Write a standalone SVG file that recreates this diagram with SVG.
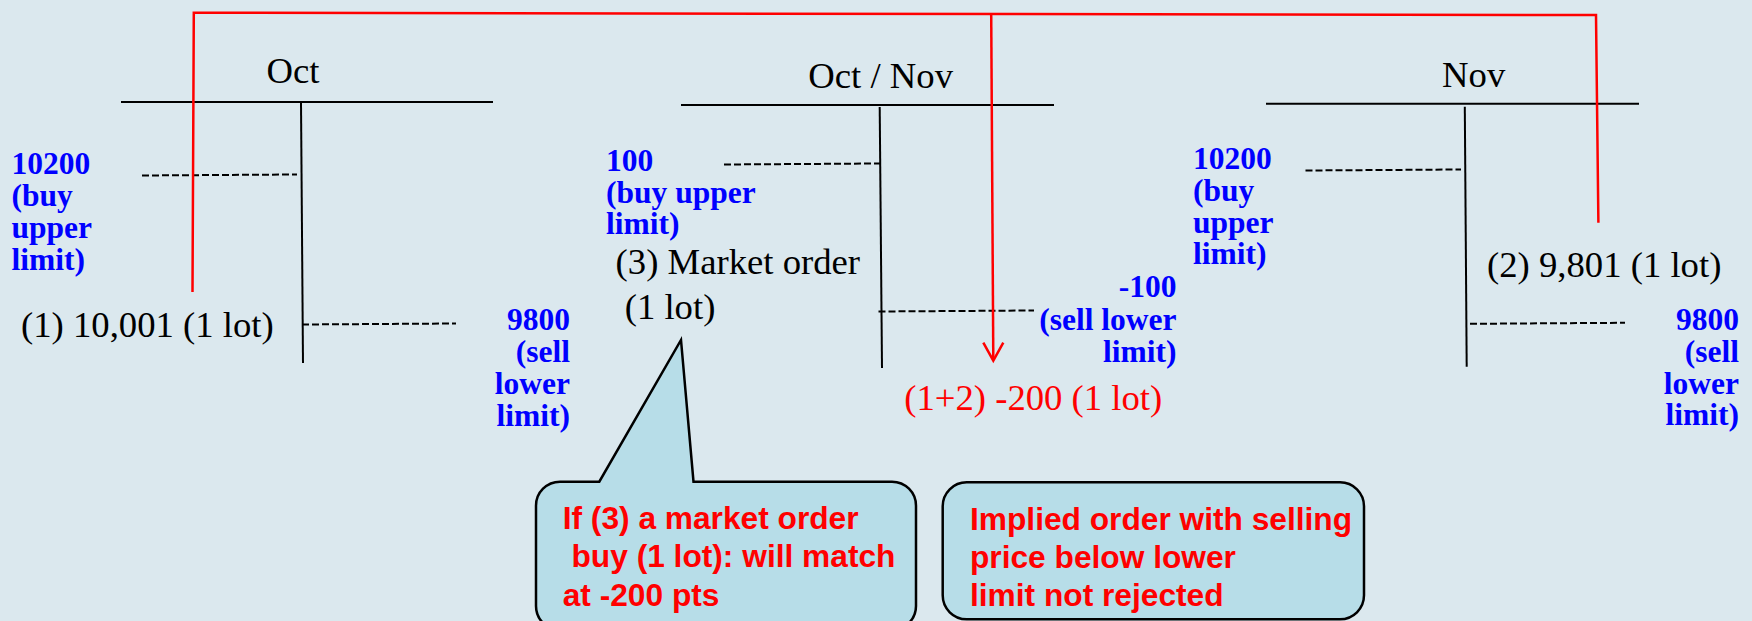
<svg xmlns="http://www.w3.org/2000/svg" width="1752" height="621" viewBox="0 0 1752 621">
<defs>
<style>
.axis{stroke:#000;stroke-width:2;fill:none}
.dash{stroke:#000;stroke-width:2;stroke-dasharray:7 3;fill:none}
.red{stroke:#ff0000;stroke-width:2.5;fill:none}
.hdr{font-family:"Liberation Serif","Times New Roman",serif;font-size:36.7px;fill:#000}
.lbl{font-family:"Liberation Serif","Times New Roman",serif;font-size:36.7px;fill:#000}
.lim{font-family:"Liberation Serif","Times New Roman",serif;font-size:31.5px;font-weight:bold;fill:#0000ff}
.res{font-family:"Liberation Serif","Times New Roman",serif;font-size:36.7px;fill:#ff0000}
.call{fill:#b7dde8;stroke:#000;stroke-width:2.5}
.ctext{font-family:"Liberation Sans",Arial,sans-serif;font-size:31.7px;font-weight:bold;fill:#ff0000}
</style>
</defs>
<rect x="0" y="0" width="1752" height="621" fill="#dbe8ee"/>

<g id="oct">
<text class="hdr" x="293" y="83" text-anchor="middle">Oct</text>
<line class="axis" x1="121" y1="102" x2="493" y2="102"/>
<line class="axis" x1="301" y1="103" x2="303" y2="363"/>
<line class="dash" x1="142" y1="175.5" x2="297" y2="174.5"/>
<line class="dash" x1="302" y1="324.5" x2="456" y2="323.5"/>
<text class="lim"><tspan x="11.5" y="174">10200</tspan><tspan x="11.5" y="206">(buy</tspan><tspan x="11.5" y="238">upper</tspan><tspan x="11.5" y="270">limit)</tspan></text>
<text class="lim" text-anchor="end"><tspan x="570" y="330">9800</tspan><tspan x="570" y="362">(sell</tspan><tspan x="570" y="394">lower</tspan><tspan x="570" y="425.5">limit)</tspan></text>
<text class="lbl" x="21" y="337">(1) 10,001 (1 lot)</text>
</g>

<g id="octnov">
<text class="hdr" x="880.7" y="88.3" text-anchor="middle">Oct / Nov</text>
<line class="axis" x1="681" y1="105" x2="1054" y2="105"/>
<line class="axis" x1="879.7" y1="107" x2="882" y2="368"/>
<line class="dash" x1="724" y1="164.5" x2="880" y2="163.5"/>
<line class="dash" x1="878.5" y1="311.5" x2="1034" y2="310.5"/>
<text class="lim"><tspan x="606" y="171">100</tspan><tspan x="606" y="202.5">(buy upper</tspan><tspan x="606" y="234">limit)</tspan></text>
<text class="lim" text-anchor="end"><tspan x="1176.5" y="297">-100</tspan><tspan x="1176.5" y="330">(sell lower</tspan><tspan x="1176.5" y="362">limit)</tspan></text>
<text class="lbl" x="615.6" y="274">(3) Market order</text>
<text class="lbl" x="624.7" y="319">(1 lot)</text>
<text class="res" x="904.2" y="410">(1+2) -200 (1 lot)</text>
</g>

<g id="nov">
<text class="hdr" x="1473.7" y="86.7" text-anchor="middle">Nov</text>
<line class="axis" x1="1266" y1="103.7" x2="1639" y2="103.7"/>
<line class="axis" x1="1464.8" y1="106.7" x2="1466.7" y2="366.7"/>
<line class="dash" x1="1305.5" y1="170.5" x2="1461" y2="169.5"/>
<line class="dash" x1="1470" y1="323.8" x2="1625" y2="322.8"/>
<text class="lim"><tspan x="1193" y="169">10200</tspan><tspan x="1193" y="201">(buy</tspan><tspan x="1193" y="232.5">upper</tspan><tspan x="1193" y="264">limit)</tspan></text>
<text class="lim" text-anchor="end"><tspan x="1739" y="330">9800</tspan><tspan x="1739" y="362">(sell</tspan><tspan x="1739" y="393.5">lower</tspan><tspan x="1739" y="425">limit)</tspan></text>
<text class="lbl" x="1487" y="277.3">(2) 9,801 (1 lot)</text>
</g>

<g id="callout-market">
<path class="call" d="M 560 481.7 L 599.3 481.7 L 681 340 L 693.5 481.7 L 892 481.7 A 24 24 0 0 1 916 505.7 L 916 606 A 24 24 0 0 1 892 630 L 560 630 A 24 24 0 0 1 536 606 L 536 505.7 A 24 24 0 0 1 560 481.7 Z"/>
<text class="ctext" xml:space="preserve"><tspan x="562.7" y="529.3">If (3) a market order</tspan><tspan x="562.7" y="567.3"> buy (1 lot): will match</tspan><tspan x="562.7" y="606">at -200 pts</tspan></text>
</g>

<g id="callout-implied">
<rect class="call" x="942.7" y="482.3" width="421.3" height="137" rx="24" ry="24"/>
<text class="ctext"><tspan x="970" y="530">Implied order with selling</tspan><tspan x="970" y="567.5">price below lower</tspan><tspan x="970" y="606">limit not rejected</tspan></text>
</g>

<g id="connectors">
<polyline class="red" points="192.5,292 193.8,12.7 1596,15 1598.4,222.7"/>
<line class="red" x1="991.2" y1="13.8" x2="993.3" y2="359"/>
<polyline class="red" points="983.3,342.7 993.3,360.7 1003.3,342.7"/>
</g>
</svg>
